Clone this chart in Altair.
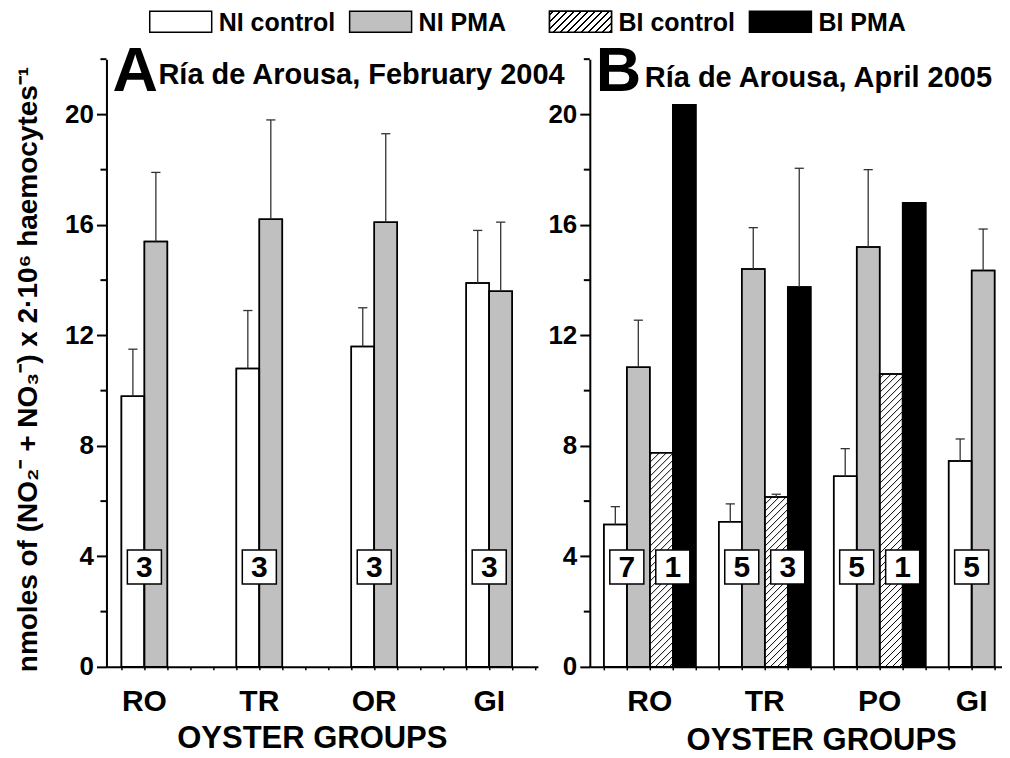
import altair as alt
import pandas as pd
import numpy as np

# ---------------- data ----------------
SERIES = ["NI control", "NI PMA", "BI control", "BI PMA"]
FILLS = ["#ffffff", "#c0c0c0", "#ffffff", "#000000"]

A_GROUPS = ["RO", "TR", "OR", "GI"]
A_NI_CTRL = [9.8, 10.8, 11.6, 13.9]
A_NI_CTRL_ERR = [1.7, 2.1, 1.4, 1.9]
A_NI_PMA = [15.4, 16.2, 16.1, 13.6]
A_NI_PMA_ERR = [2.5, 3.6, 3.2, 2.5]
A_N_NI = [3, 3, 3, 3]
A_N_BI = [None, None, None, None]

B_GROUPS = ["RO", "TR", "PO", "GI"]
B_NI_CTRL = [5.15, 5.25, 6.9, 7.45]
B_NI_CTRL_ERR = [0.65, 0.65, 1.0, 0.8]
B_NI_PMA = [10.85, 14.4, 15.2, 14.35]
B_NI_PMA_ERR = [1.7, 1.5, 2.8, 1.5]
B_BI_CTRL = [7.75, 6.15, 10.6, None]
B_BI_CTRL_ERR = [None, 0.1, None, None]
B_BI_PMA = [20.35, 13.75, 16.8, None]
B_BI_PMA_ERR = [None, 4.3, None, None]
B_N_NI = [7, 5, 5, 5]
B_N_BI = [1, 3, 1, None]

Y_TICKS = [0, 4, 8, 12, 16, 20]
Y_MINOR = [2, 6, 10, 14, 18, 22]

YTITLE = "nmoles of (NO\u2082\u207b + NO\u2083\u207b) x 2\u00b710\u2076 haemocytes\u207b\u00b9"
XTITLE = "OYSTER GROUPS"
TITLE_A = "R\u00eda de Arousa, February 2004".replace("\u00ea", "\u00ed")
TITLE_B = "R\u00eda de Arousa, April 2005".replace("\u00ea", "\u00ed")

# ---------------- layout / style ----------------
FONT = "Liberation Sans"
SLOT_PX = 23.0
Y_MAX = 22
PLOT_H = 608
Y_PX = PLOT_H / Y_MAX
A_DOMAIN = [-0.65, 18.12]
B_DOMAIN = [-0.61, 17.30]
HATCH_STEP = 7.0

fill_scale = alt.Scale(domain=SERIES, range=FILLS)
yscale = alt.Scale(domain=[0, Y_MAX], nice=False, zero=True)


def legend_gradient(w, h, step=7.0, thick=1.8):
    k = (w + h) / (w * w + h * h)
    tot = w + h
    stops = [{"offset": 0, "color": "white"}]
    c = step / 2
    while c + thick / 2 < tot:
        a = (c - thick / 2) / tot
        b = (c + thick / 2) / tot
        stops += [{"offset": a, "color": "white"}, {"offset": a, "color": "black"},
                  {"offset": b, "color": "black"}, {"offset": b, "color": "white"}]
        c += step
    stops.append({"offset": 1, "color": "white"})
    return {"gradient": "linear", "x1": 0, "y1": 0, "x2": w * k, "y2": h * k, "stops": stops}


def panel(groups, vals, errs, n_ni, n_bi, domain, letter, title, title_x, title_y,
          xt_x, xt_y, ytitle, with_legend):
    rows, hatch, errrows, nrows, grows = [], [], [], [], []
    for gi, g in enumerate(groups):
        nb = 0
        for si in range(4):
            v = vals[si][gi]
            if v is None:
                continue
            nb += 1
            x0 = gi * 5 + si
            rows.append({"series": SERIES[si], "x": x0, "x2": x0 + 1, "value": v, "base": 0})
            e = errs[si][gi]
            if e is not None:
                errrows.append({"xc": x0 + 0.5, "xl": x0 + 0.3, "xr": x0 + 0.7,
                                "value": v, "top": v + e})
            if SERIES[si] == "BI control":
                hpx = v * Y_PX
                c = -SLOT_PX + HATCH_STEP / 2
                while c < hpx:
                    u0 = max(0.0, -c)
                    u1 = min(SLOT_PX, hpx - c)
                    if u1 > u0:
                        hatch.append({"x": x0 + u0 / SLOT_PX, "y": (u0 + c) / Y_PX,
                                      "x2": x0 + u1 / SLOT_PX, "y2": (u1 + c) / Y_PX})
                    c += HATCH_STEP
        grows.append({"group": g, "xc": gi * 5 + nb / 2})
        if n_ni[gi] is not None:
            nrows.append({"n": str(n_ni[gi]), "xb": gi * 5 + 1})
        if n_bi[gi] is not None:
            nrows.append({"n": str(n_bi[gi]), "xb": gi * 5 + 3})

    bars_df = pd.DataFrame(rows)
    xscale = alt.Scale(domain=domain, nice=False, zero=False)

    xaxis = alt.Axis(values=list(range(0, int(domain[1]) + 1)), labels=False, tickSize=3,
                     tickWidth=1.5, tickColor="black", domainWidth=2, domainColor="black",
                     grid=False, title=None)
    yaxis_kw = dict(values=Y_TICKS, tickSize=10, tickWidth=2, tickColor="black",
                    domainWidth=2, domainColor="black", labelFont=FONT, labelFontSize=26,
                    labelFontWeight="bold", labelColor="black", labelPadding=3, grid=False)
    if ytitle:
        yaxis = alt.Axis(title=ytitle, titleFont=FONT, titleFontSize=28,
                         titleFontWeight="bold", titleColor="black", titleAngle=270,
                         titleX=-78, titleY=310, titleAlign="center", titleBaseline="middle",
                         **yaxis_kw)
    else:
        yaxis = alt.Axis(title=None, **yaxis_kw)

    def X(f):
        return alt.X(f"{f}:Q", scale=xscale, axis=xaxis)

    def Y(f):
        return alt.Y(f"{f}:Q", scale=yscale, axis=yaxis)

    bars = alt.Chart(bars_df).mark_rect(stroke="black", strokeWidth=1.5).encode(
        x=X("x"), x2="x2:Q", y=Y("value"), y2="base:Q",
        fill=alt.Fill("series:N", scale=fill_scale, legend=None))
    layers = [bars]
    if hatch:
        layers.append(alt.Chart(pd.DataFrame(hatch)).mark_rule(color="black", strokeWidth=1).encode(
            x=X("x"), y=Y("y"), x2="x2:Q", y2="y2:Q"))
    layers.append(alt.Chart(bars_df).mark_rect(filled=False, stroke="black", strokeWidth=1.5).encode(
        x=X("x"), x2="x2:Q", y=Y("value"), y2="base:Q"))
    err_df = pd.DataFrame(errrows)
    layers.append(alt.Chart(err_df).mark_rule(color="#333333", strokeWidth=1.3).encode(
        x=X("xc"), y=Y("value"), y2="top:Q"))
    layers.append(alt.Chart(err_df).mark_rule(color="#333333", strokeWidth=1.3).encode(
        x=X("xl"), x2="xr:Q", y=Y("top")))
    layers.append(alt.Chart(pd.DataFrame({"m": Y_MINOR})).mark_rule(color="black", strokeWidth=2).encode(
        y=Y("m"), x=alt.value(0), x2=alt.value(-6)))
    n_df = pd.DataFrame(nrows)
    layers.append(alt.Chart(n_df).mark_square(size=1160, fill="white", stroke="black",
                                              strokeWidth=1.5, opacity=1).encode(
        x=X("xb"), y=alt.value(508)))
    layers.append(alt.Chart(n_df).mark_text(font=FONT, fontSize=30, fontWeight="bold",
                                            color="black", baseline="middle", dy=1).encode(
        x=X("xb"), y=alt.value(508), text="n:N"))
    layers.append(alt.Chart(pd.DataFrame(grows)).mark_text(
        font=FONT, fontSize=30, fontWeight="bold", color="black", baseline="alphabetic").encode(
        x=X("xc"), y=alt.value(PLOT_H + 44), text="group:N"))
    txt = pd.DataFrame({"letter": [letter], "title": [title], "xt": [XTITLE]})
    layers.append(alt.Chart(txt).mark_text(font=FONT, fontSize=63, fontWeight="bold", color="black",
                                           align="left", baseline="alphabetic").encode(
        x=alt.value(6), y=alt.value(31.5), text="letter:N"))
    layers.append(alt.Chart(txt).mark_text(font=FONT, fontSize=29, fontWeight="bold", color="black",
                                           align="left", baseline="alphabetic").encode(
        x=alt.value(title_x), y=alt.value(title_y), text="title:N"))
    layers.append(alt.Chart(txt).mark_text(font=FONT, fontSize=31, fontWeight="bold", color="black",
                                           align="center", baseline="alphabetic").encode(
        x=alt.value(xt_x), y=alt.value(xt_y), text="xt:N"))
    core = alt.layer(*layers)

    width = (domain[1] - domain[0]) * SLOT_PX
    if with_legend:
        leg_df = pd.DataFrame({"item": SERIES})
        lx = alt.X("item:N", sort=SERIES,
                   scale=alt.Scale(domain=SERIES, range=[-25.7, 774.3], paddingInner=0, paddingOuter=0),
                   axis=None)
        boxes = alt.Chart(leg_df).mark_bar(width=62, stroke="black", strokeWidth=1.5).encode(
            x=lx, y=alt.value(-48), y2=alt.value(-27),
            fill=alt.Fill("item:N", scale=fill_scale, legend=None))
        hbox = alt.Chart(leg_df).transform_filter(alt.datum.item == "BI control").mark_bar(
            width=62, stroke="black", strokeWidth=1.5, fill=legend_gradient(62, 21)).encode(
            x=lx, y=alt.value(-48), y2=alt.value(-27))
        ltext = alt.Chart(leg_df).mark_text(font=FONT, fontSize=25, fontWeight="bold", color="black",
                                            align="left", baseline="middle", dx=38).encode(
            x=lx, y=alt.value(-36.5), text="item:N")
        leg = alt.layer(boxes, hbox, ltext)
        chart = alt.layer(core, leg).resolve_scale(x="independent")
    else:
        chart = core
    return chart.properties(width=width, height=PLOT_H)


pA = panel(A_GROUPS, [A_NI_CTRL, A_NI_PMA, [None] * 4, [None] * 4],
           [A_NI_CTRL_ERR, A_NI_PMA_ERR, [None] * 4, [None] * 4],
           A_N_NI, A_N_BI, A_DOMAIN, "A", TITLE_A,
           52, 24.5, 206, 689, YTITLE, True)
pB = panel(B_GROUPS, [B_NI_CTRL, B_NI_PMA, B_BI_CTRL, B_BI_PMA],
           [B_NI_CTRL_ERR, B_NI_PMA_ERR, B_BI_CTRL_ERR, B_BI_PMA_ERR],
           B_N_NI, B_N_BI, B_DOMAIN, "B", TITLE_B,
           55, 28, 232, 691, None, False)

chart = alt.hconcat(pA, pB, spacing=51.6, bounds="flush").properties(
    padding={"left": 5.5, "top": 2, "right": 0, "bottom": 0}
).configure_view(stroke=None)

chart.save("out.html", embed_options={"renderer": "svg", "actions": False})
